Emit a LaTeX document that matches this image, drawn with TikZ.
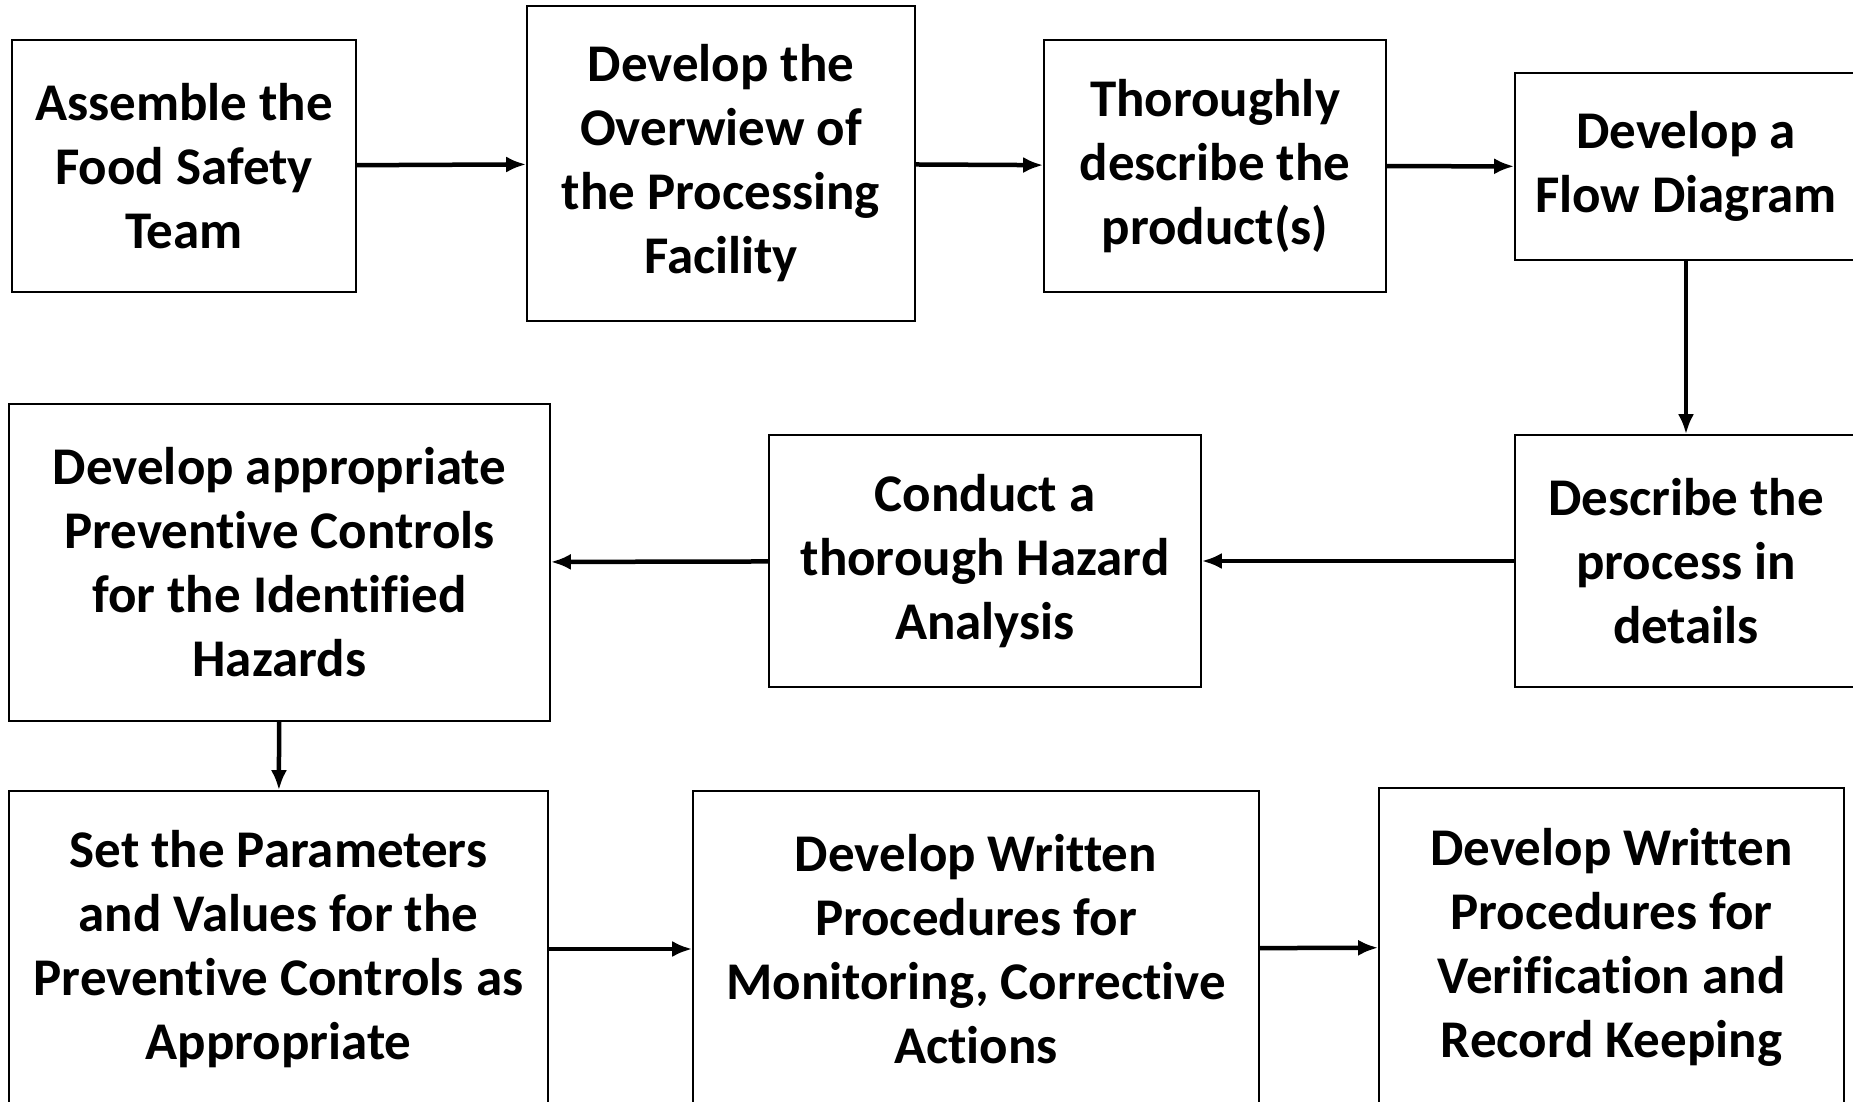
\documentclass[tikz,border=0pt]{standalone}
\usepackage{fontspec}
\setmainfont[Ligatures=NoCommon]{Carlito}
\usetikzlibrary{arrows.meta}

\tikzset{
  stepbox/.style={draw, rectangle, line width=1.6pt, align=center, inner sep=0pt,
    font=\bfseries\fontsize{53}{64}\selectfont},
  flow/.style={line width=4.5pt, -{Latex[length=20pt,width=16pt]}}
}

\begin{document}
\begin{tikzpicture}[x=1pt, y=-1pt]

  \clip (0,0) rectangle (1853,1102);
  \fill[white] (0,0) rectangle (1853,1102);

  % top row
  \node [stepbox, minimum width=344pt, minimum height=252pt] (team) at (184,166) {Assemble the\\Food Safety\\Team};
  \node [stepbox, minimum width=388pt, minimum height=315pt] (overview) at (721,163.5) {Develop the\\Overwiew of\\the Processing\\Facility};
  \node [stepbox, minimum width=342pt, minimum height=252pt] (product) at (1215,166) {Thoroughly\\describe the\\product(s)};
  \node [stepbox, minimum width=342pt, minimum height=187pt] (diagram) at (1686,166.5) {Develop a\\Flow Diagram};

  % middle row
  \node [stepbox, minimum width=342pt, minimum height=252pt] (process) at (1686,561) {Describe the\\process in\\details};
  \node [stepbox, minimum width=432pt, minimum height=252pt] (hazard) at (985,561) {Conduct a\\thorough Hazard\\Analysis};
  \node [stepbox, minimum width=541pt, minimum height=317pt] (controls) at (279.5,562.5) {Develop appropriate\\Preventive Controls\\for the Identified\\Hazards};

  % bottom row
  \node [stepbox, minimum width=539pt, minimum height=316pt] (params) at (278.5,949) {Set the Parameters\\and Values for the\\Preventive Controls as\\Appropriate};
  \node [stepbox, minimum width=566pt, minimum height=316pt] (monitor) at (976,949) {Develop Written\\Procedures for\\Monitoring, Corrective\\Actions};
  \node [stepbox, minimum width=465pt, minimum height=318pt] (verify) at (1611.5,947) {Develop Written\\Procedures for\\Verification and\\Record Keeping};

  \draw[flow] (team) -- (overview);
  \draw[flow] (overview) -- (product);
  \draw[flow] (product) -- (diagram);
  \draw[flow] (diagram) -- (process);
  \draw[flow] (process) -- (hazard);
  \draw[flow] (hazard) -- (controls);
  \draw[flow] (controls) -- (params);
  \draw[flow] (params) -- (monitor);
  \draw[flow] (monitor) -- (verify);

\end{tikzpicture}
\end{document}
